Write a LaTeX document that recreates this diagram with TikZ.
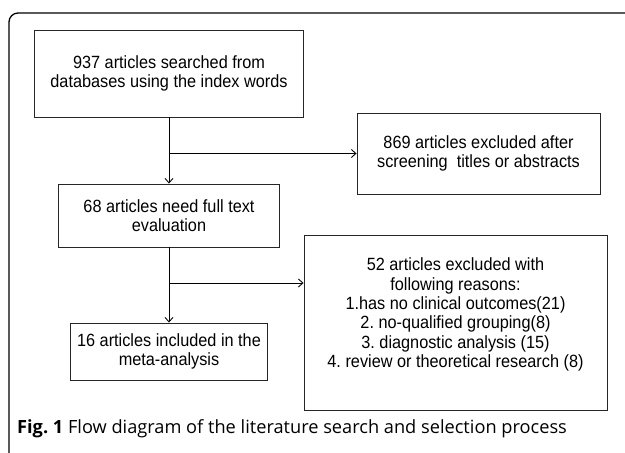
\documentclass[tikz,border=0pt]{standalone}
\usepackage{fontspec}
\setmainfont{Liberation Sans}[FakeStretch=0.92]
\newfontfamily\capfont{Open Sans}
\usetikzlibrary{arrows.meta}
\frenchspacing
\begin{document}
\begin{tikzpicture}[x=1pt,y=-1pt, >={Straight Barb[length=4.5pt,width=8pt]}]
	\tikzstyle{block} = [rectangle, draw=black!85, line width=0.9pt, align=center, inner sep=0pt, font=\fontsize{17.7}{19.4}\selectfont]
	\useasboundingbox (0,0) rectangle (625,453);
	\draw [line width=1.3pt, rounded corners=9pt] (9,453) |- (625,13);
	\node [block, minimum width=269, minimum height=87] (A) at (169,73.5) {937 articles searched from\\databases using the index words};
	\node [block, minimum width=243, minimum height=81] (B) at (478.5,153.5) {869 articles excluded after\\screening\ \ titles or abstracts};
	\node [block, minimum width=221, minimum height=63] (C) at (169,215.5) {68 articles need full text\\evaluation};
	\node [block, minimum width=303, minimum height=175] (D) at (455.5,322.5) {52 articles excluded with\\following reasons:\\1.has no clinical outcomes(21)\\2. no-qualified grouping(8)\\3. diagnostic analysis (15)\\4. review or theoretical research (8)\\\mbox{}};
	\node [block, minimum width=197, minimum height=57] (E) at (169,351.5) {16 articles included in the\\meta-analysis};
	\coordinate (X1) at (169,153.5);
	\coordinate (X2) at (169,283);
	\draw [line width=0.9pt, ->] (A) to (C);
	\draw [line width=0.9pt, ->] (X1) to (B);
	\draw [line width=0.9pt, ->] (C) to (E);
	\draw [line width=0.9pt, ->] (X2) to (X2 -| D.west);
	\node [anchor=west, inner sep=0pt] (F) at (17,429) {\capfont\fontsize{18.2}{21}\selectfont\textbf{Fig. 1} Flow diagram of the literature search and selection process};
\end{tikzpicture}
\end{document}
